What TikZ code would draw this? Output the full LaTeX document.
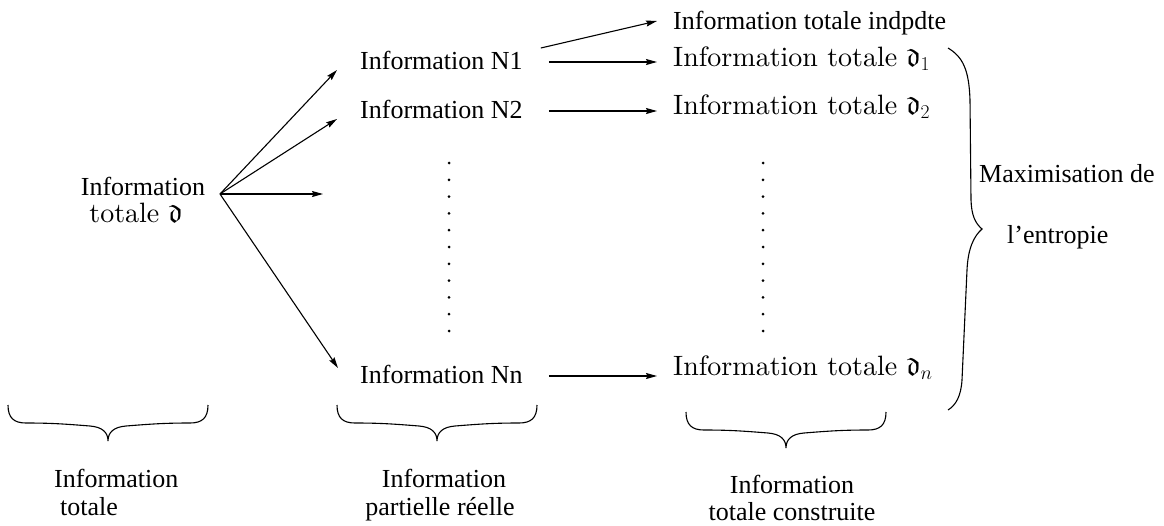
\RequirePackage{fix-cm}
\documentclass[tikz,border=0pt]{standalone}
\usepackage{amssymb}
\DeclareFontFamily{U}{euf}{}
\DeclareFontShape{U}{euf}{m}{n}{<->eufm10}{}
\usepackage{fontspec}
\newfontfamily\tms{Liberation Serif}
\newfontfamily\cmr{lmroman10-regular.otf}
\usetikzlibrary{arrows.meta}
\tikzset{
  tmtxt/.style={inner sep=0pt, font=\fontsize{26}{31}\tms},
  cmtxt/.style={inner sep=0pt, font=\fontsize{28}{34}\cmr},
  rowtxt/.style={tmtxt, anchor=base west, text height=14pt, text depth=0pt},
  arr/.style={line width=1.1pt, -{Stealth[length=11pt,width=6pt,inset=1.5pt]}},
  brc/.style={line width=1.1pt},
  hbrace/.pic={\draw[brc] (0,0) .. controls +(0,13) and +(-12,0) .. (18,18)
      .. controls +(25,0) and +(-25,-2) .. (82,21)
      .. controls +(12,1) and +(0,-9) .. (100,36)
      .. controls +(0,-9) and +(-12,1) .. (118,21)
      .. controls +(25,-2) and +(-25,0) .. (182,18)
      .. controls +(12,0) and +(0,13) .. (200,0);}
}
\begin{document}
\begin{tikzpicture}[x=1pt,y=-1pt]
\useasboundingbox (0,0) rectangle (1164,525);
% left node
\node[tmtxt, anchor=base] (L1) at (143,195) {Information};
\node[cmtxt, anchor=base] (L2) at (136,222) {totale $\mathfrak{d}$};
\coordinate (O) at (220,194);
\coordinate (M) at (323,194);
% middle column
\node[rowtxt] (n1) at (360,69) {Information N1};
\node[rowtxt] (n2) at (360,118) {Information N2};
\node[rowtxt] (nn) at (360,383) {Information Nn};
% right column
\node[rowtxt] (ind) at (673,29) {Information totale indpdte};
\node[cmtxt, anchor=base west] (d1) at (673,66) {Information totale $\mathfrak{d}_1$};
\node[cmtxt, anchor=base west] (d2) at (673,114) {Information totale $\mathfrak{d}_2$};
\node[cmtxt, anchor=base west] (dn) at (673,375) {Information totale $\mathfrak{d}_n$};
% fan arrows
\draw[arr] (O) -- ([shift={(-23pt,-8pt)}]n1.west);
\draw[arr] (O) -- ([shift={(-23pt,-8pt)}]n2.west);
\draw[arr] (O) -- (M);
\draw[arr] (O) -- ([shift={(-22pt,8pt)}]nn.west);
% horizontal arrows
\draw[arr, shorten <=26pt, shorten >=16pt] (n1.east) -- (n1.east -| d1.west);
\draw[arr, shorten <=26pt, shorten >=16pt] (n2.east) -- (n2.east -| d2.west);
\draw[arr, shorten <=26pt, shorten >=16pt] (nn.east) -- (nn.east -| dn.west);
\draw[arr] ([shift={(18pt,14pt)}]n1.east) -- ([shift={(-16pt,1pt)}]ind.west);
% dots
\foreach \k in {0,...,10}{
  \fill (449,{163+16.8*\k}) circle (1.5);
  \fill (763,{163+16.8*\k}) circle (1.5);
}
% big brace
\draw[brc] (948,48) .. controls (963,57) and (969,70) .. (970,100)
  -- (971,200)
  .. controls (971.5,215) and (975,223) .. (982,229)
  .. controls (974,236) and (968,248) .. (967,270)
  -- (962,380)
  .. controls (961,396) and (956,405) .. (948,410);
\node[tmtxt, anchor=base west] (mx) at (979,182) {Maximisation de};
\node[tmtxt, anchor=base west] (en) at (1007,243) {l’entropie};
% bottom braces
\pic at (8,405) {hbrace};
\pic at (337,405) {hbrace};
\pic at (686,412) {hbrace};
\node[tmtxt, anchor=base west] (b1a) at (54,487) {Information};
\node[tmtxt, anchor=base west] (b1b) at (60,515) {totale};
\node[tmtxt, anchor=base] (b2a) at (444,487) {Information};
\node[tmtxt, anchor=base] (b2b) at (440,515) {partielle réelle};
\node[tmtxt, anchor=base] (b3a) at (792,493) {Information};
\node[tmtxt, anchor=base] (b3b) at (792,520) {totale construite};
\end{tikzpicture}
\end{document}
